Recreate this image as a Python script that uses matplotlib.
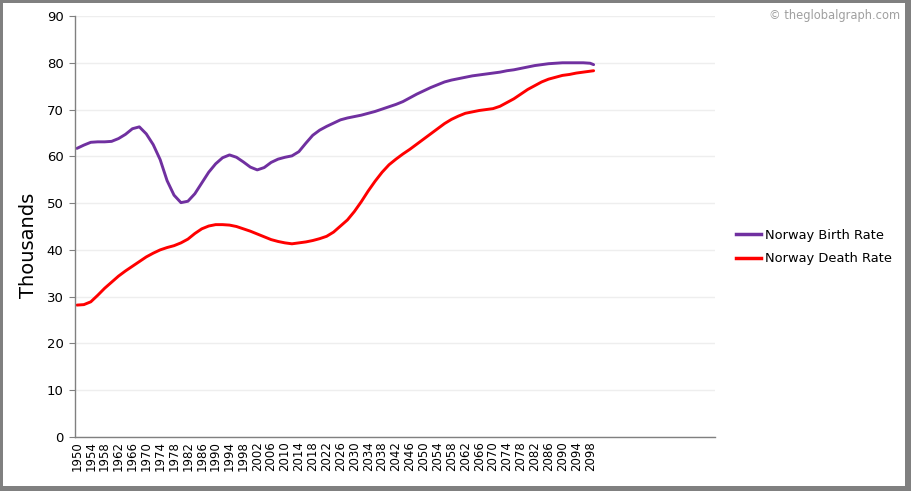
import matplotlib
matplotlib.use("Agg")
import matplotlib.pyplot as plt
from matplotlib.patches import Rectangle
from matplotlib.lines import Line2D

years = list(range(1950, 2099, 2)) + [2099]

birth = [61.7, 62.4, 63.0, 63.1, 63.1, 63.2, 63.8, 64.7, 65.9, 66.3,
         64.8, 62.5, 59.3, 54.8, 51.7, 50.1, 50.4, 52.0, 54.3, 56.6,
         58.4, 59.7, 60.3, 59.8, 58.8, 57.7, 57.1, 57.6, 58.7, 59.4,
         59.8, 60.1, 61.0, 62.8, 64.5, 65.6, 66.4, 67.1, 67.8, 68.2,
         68.5, 68.8, 69.2, 69.6, 70.1, 70.6, 71.1, 71.7, 72.5, 73.3,
         74.0, 74.7, 75.3, 75.9, 76.3, 76.6, 76.9, 77.2, 77.4, 77.6,
         77.8, 78.0, 78.3, 78.5, 78.8, 79.1, 79.4, 79.6, 79.8, 79.9,
         80.0, 80.0, 80.0, 80.0, 79.9, 79.6]

death = [28.2, 28.3, 28.9, 30.3, 31.8, 33.1, 34.4, 35.5, 36.5, 37.5,
         38.5, 39.3, 40.0, 40.5, 40.9, 41.5, 42.3, 43.5, 44.5, 45.1,
         45.4, 45.4, 45.3, 45.0, 44.5, 44.0, 43.4, 42.8, 42.2, 41.8,
         41.5, 41.3, 41.5, 41.7, 42.0, 42.4, 42.9, 43.8, 45.1, 46.4,
         48.2, 50.3, 52.6, 54.7, 56.6, 58.2, 59.4, 60.5, 61.5, 62.6,
         63.7, 64.8, 65.9, 67.0, 67.9, 68.6, 69.2, 69.5, 69.8, 70.0,
         70.2, 70.7, 71.5, 72.3, 73.3, 74.3, 75.1, 75.9, 76.5, 76.9,
         77.3, 77.5, 77.8, 78.0, 78.2, 78.3]

tick_years = list(range(1950, 2099, 4))
yticks = list(range(0, 91, 10))

series_names = ["Norway Birth Rate", "Norway Death Rate"]
colors = ["#7030A0", "#FF0000"]

W, H = 911, 491
fig = plt.figure(figsize=(W / 100, H / 100), dpi=100)
fig.patch.set_facecolor("white")

# gray frame
for (x0, y0, w, h) in [(0, 0, 3 / W, 1), (0, 1 - 3 / H, 1, 3 / H),
                       (1 - 6 / W, 0, 6 / W, 1), (0, 0, 1, 5 / H)]:
    fig.patches.append(Rectangle((x0, y0), w, h, transform=fig.transFigure,
                                 facecolor="#808080", edgecolor="none", zorder=0))

ax = fig.add_axes([74.5 / W, 1 - 437 / H, (715 - 74.5) / W, (437 - 16) / H])
ax.plot(years, birth, color=colors[0], linewidth=2.1, solid_capstyle="round")
ax.plot(years, death, color=colors[1], linewidth=2.1, solid_capstyle="round")

ax.set_ylim(0, 90)
ax.set_xlim(1949.3, 2134)
ax.set_yticks(yticks)
ax.set_xticks(tick_years)
ax.set_xticklabels([str(y) for y in tick_years], rotation=90, fontsize=8.5,
                   fontfamily="DejaVu Sans")
ax.tick_params(axis="x", length=0, pad=3)
ax.tick_params(axis="y", length=4, color="#808080", labelsize=9.5, pad=4)
ax.grid(axis="y", color="#eeeeee", linewidth=1)
ax.set_axisbelow(True)
for s in ["top", "right"]:
    ax.spines[s].set_visible(False)
for s in ["left", "bottom"]:
    ax.spines[s].set_color("#808080")
    ax.spines[s].set_linewidth(1)

fig.text(28 / W, 1 - 245 / H, "Thousands", rotation=90, fontsize=14,
         ha="center", va="center")

handles = [Line2D([0], [0], color=c, linewidth=2.5) for c in colors]
leg = fig.legend(handles, series_names, loc="center left",
                 bbox_to_anchor=(732 / W, 1 - 247 / H), frameon=False,
                 fontsize=9.4, handlelength=1.9, handletextpad=0.3,
                 labelspacing=0.8, borderaxespad=0, borderpad=0.3)

fig.text(900 / W, 1 - 16 / H, "\u00a9 theglobalgraph.com", fontsize=8.3,
         color="#a0a0a0", ha="right", va="center")

fig.savefig("out.png", dpi=100, facecolor="white")
